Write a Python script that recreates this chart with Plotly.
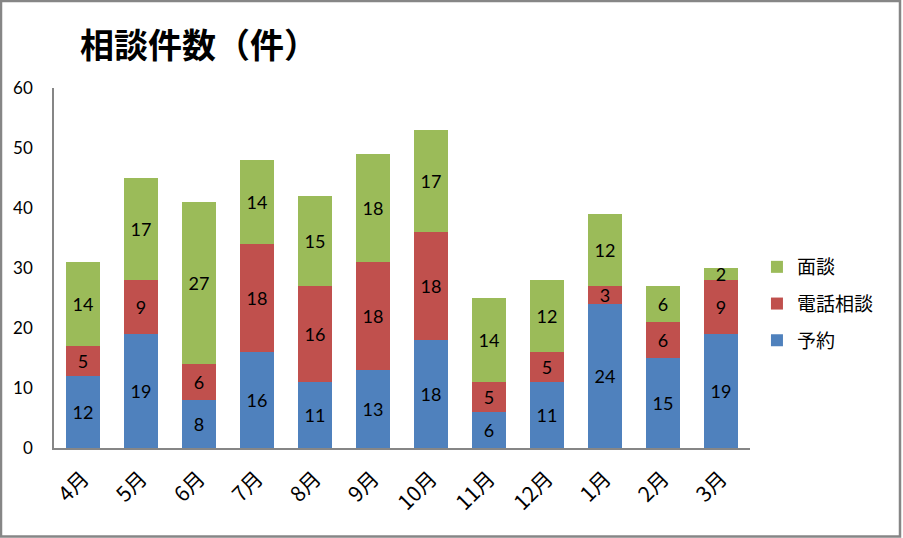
import plotly.graph_objects as go

months = ["4月", "5月", "6月", "7月", "8月", "9月", "10月", "11月", "12月", "1月", "2月", "3月"]
yoyaku = [12, 19, 8, 16, 11, 13, 18, 6, 11, 24, 15, 19]
denwa = [5, 9, 6, 18, 16, 18, 18, 5, 5, 3, 6, 9]
mendan = [14, 17, 27, 14, 15, 18, 17, 14, 12, 12, 6, 2]
y_ticks = [0, 10, 20, 30, 40, 50, 60]

series = [
    ("予約", yoyaku, "#4F81BD", 3),
    ("電話相談", denwa, "#C0504D", 2),
    ("面談", mendan, "#9BBB59", 1),
]

num_font = "Lato, 'Liberation Sans', sans-serif"
jp_font = "'Noto Sans CJK JP', sans-serif"

fig = go.Figure()
for name, vals, color, rank in series:
    fig.add_trace(go.Bar(
        x=months, y=vals, name=name,
        marker=dict(color=color, line=dict(width=0)),
        text=[str(v) for v in vals],
        textposition="inside", insidetextanchor="middle",
        textangle=0, constraintext="none",
        textfont=dict(family=num_font, size=18, color="black"),
        width=0.57,
        legendgroup=name, legendrank=rank,
    ))

fig.update_layout(
    barmode="stack",
    width=903, height=538,
    margin=dict(l=54, r=153, t=88, b=90),
    paper_bgcolor="white", plot_bgcolor="white",
    showlegend=True,
    legend=dict(
        x=1.01, xanchor="left", y=0.40, yanchor="middle",
        traceorder="grouped", tracegroupgap=9,
        font=dict(family=jp_font, size=19, color="black"),
        itemwidth=30,
    ),
    title=dict(
        text="<b>相談件数（件）</b>",
        x=80 / 903, xanchor="left", y=1 - 46 / 538, yanchor="middle",
        font=dict(family=jp_font, size=34, color="black"),
    ),
    xaxis=dict(
        range=[-0.5, 11.5],
        showline=True, linecolor="#868686", linewidth=2,
        ticks="", tickangle=-45, ticklabelstandoff=8,
        tickfont=dict(family=jp_font, size=21, color="black"),
        showgrid=False,
    ),
    yaxis=dict(
        range=[0, 60], tickvals=y_ticks,
        showline=True, linecolor="#868686", linewidth=1.5,
        ticks="", showgrid=False, zeroline=False,
        ticklabelstandoff=16,
        tickfont=dict(family=num_font, size=17, color="black"),
    ),
    shapes=[dict(
        type="rect", xref="paper", yref="paper",
        x0=-54 / 696 + 1 / 696, x1=1 + 150 / 696,
        y0=-90 / 360 + 1.5 / 360, y1=1 + 87 / 360,
        line=dict(color="#868686", width=2.5), fillcolor="rgba(0,0,0,0)",
        layer="below",
    )],
)

fig.write_html("out.html")
